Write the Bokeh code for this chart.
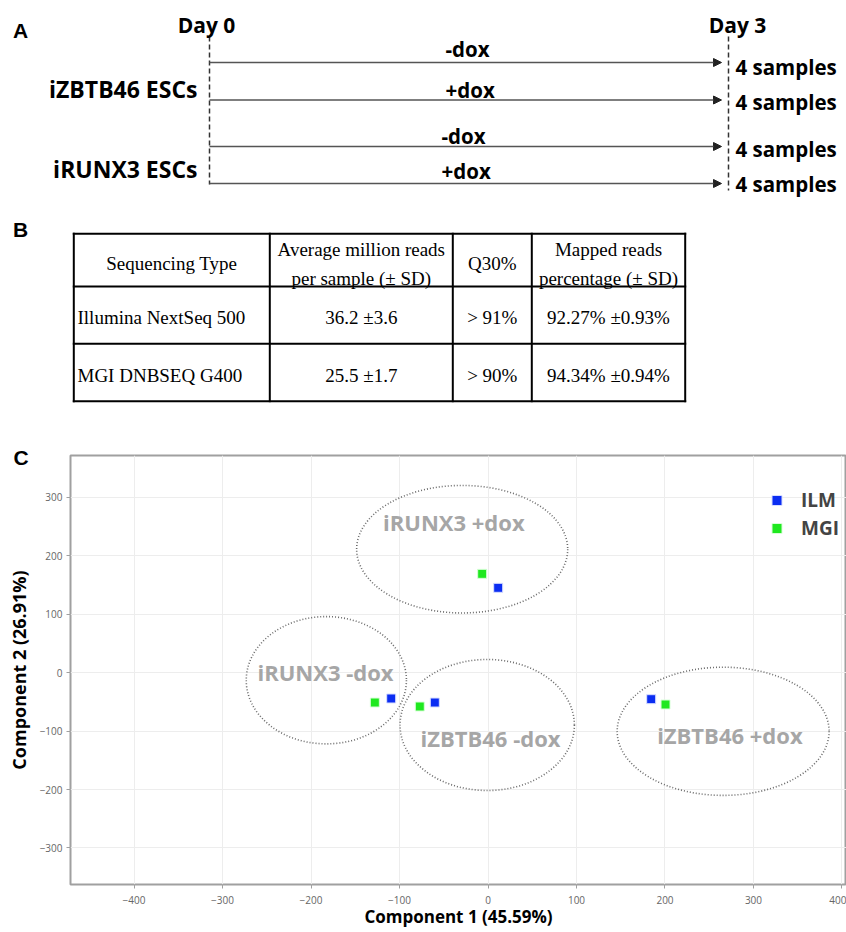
import numpy as np
from bokeh.plotting import figure
from bokeh.layouts import column
from bokeh.models import (Range1d, Arrow, NormalHead, Legend, LegendItem, Title,
                          ColumnDataSource, FixedTicker)
from bokeh.core.properties import value
from bokeh.embed import file_html
from bokeh.resources import INLINE

# ---------------- data ----------------
# Panel A: experimental design
cell_lines = ["iZBTB46 ESCs", "iRUNX3 ESCs"]
treatments = ["-dox", "+dox", "-dox", "+dox"]
sample_counts = ["4 samples", "4 samples", "4 samples", "4 samples"]
day_labels = ["Day 0", "Day 3"]

# Panel B: sequencing table
header_lines = [["Sequencing Type"],
                ["Average million reads", "per sample (\u00b1 SD)"],
                ["Q30%"],
                ["Mapped reads", "percentage (\u00b1 SD)"]]
platforms = ["Illumina NextSeq 500", "MGI DNBSEQ G400"]
avg_reads = ["36.2 \u00b13.6", "25.5 \u00b11.7"]
q30 = ["> 91%", "> 90%"]
mapped = ["92.27% \u00b10.93%", "94.34% \u00b10.94%"]

# Panel C: PCA
series_names = ["ILM", "MGI"]
ilm_pc1 = [11.5, -109.4, -60.1, 184.4]
ilm_pc2 = [144.8, -44.4, -51.3, -45.6]
mgi_pc1 = [-6.6, -127.9, -77.1, 200.6]
mgi_pc2 = [168.7, -51.3, -58.1, -54.7]
group_names = ["iRUNX3 +dox", "iRUNX3 -dox", "iZBTB46 -dox", "iZBTB46 +dox"]
group_cx = [-29.2, -182.7, -0.9, 265.7]
group_cy = [210.8, -13.2, -89.7, -100.5]
group_w = [238.5, 181.0, 197.0, 239.5]
group_h = [218.0, 217.6, 224.0, 219.3]
group_label_x = [-38.6, -183.6, 2.8, 273.3]
group_label_y = [257.0, 0.5, -111.6, -106.0]
x_ticks = [-400, -300, -200, -100, 0, 100, 200, 300, 400]
y_ticks = [-300, -200, -100, 0, 100, 200, 300]
x_title = "Component 1 (45.59%)"
y_title = "Component 2 (26.91%)"

# ---------------- layout constants (px, page coordinates) ----------------
W = 846
TOP_H = 420
C_H = 512
SANS = "Open Sans"
SERIF = "Liberation Serif"
PANEL_FONT = "Liberation Sans"

top = figure(width=W, height=TOP_H, x_range=Range1d(0, W), y_range=Range1d(TOP_H, 0),
             x_axis_type=None, y_axis_type=None, output_backend="svg",
             toolbar_location=None, min_border=0, frame_align=False)
top.grid.visible = False
top.outline_line_color = None

# panel letters
top.text(x=[12.5, 12.5], y=[30, 229], text=["A", "B"], text_font=value(PANEL_FONT),
         text_font_style="bold", text_font_size="21px", text_baseline="middle",
         text_align="left", text_color="black")

# ---- Panel A ----
day_x = [209, 728]
day_line_bottom = [184, 190]
dash_top = 36
row_y = [62, 99.5, 146, 183]
arrow_start = 209
arrow_end = 721

top.segment(x0=day_x, y0=[dash_top, dash_top], x1=day_x, y1=day_line_bottom,
            line_color="#333333", line_width=1.5, line_dash="5 3")
top.text(x=[206, 737], y=[24, 24], text=day_labels, text_font=value(SANS),
         text_font_style="bold", text_font_size="21px", text_align="center",
         text_baseline="middle", text_color="black")

arr_src = ColumnDataSource(dict(x0=[arrow_start] * 4, x1=[arrow_end] * 4, y=row_y))
top.add_layout(Arrow(end=NormalHead(size=8, fill_color="#222222", line_color="#222222", line_width=1),
                     source=arr_src, x_start="x0", y_start="y", x_end="x1", y_end="y",
                     line_color="#555555", line_width=1.4))

top.text(x=[445, 445, 441, 441], y=[48, 89, 135, 170], text=treatments, text_font=value(SANS),
         text_font_style="bold", text_font_size="20.5px", text_align="left",
         text_baseline="middle", text_color="black")
top.text(x=[735] * 4, y=[66, 101, 148, 183], text=sample_counts, text_font=value(SANS),
         text_font_style="bold", text_font_size="20.5px", text_align="left",
         text_baseline="middle", text_color="black")
top.text(x=[197, 197], y=[88, 168], text=cell_lines, text_font=value(SANS),
         text_font_style="bold", text_font_size="23px", text_align="right",
         text_baseline="middle", text_color="black")

# ---- Panel B table ----
tx = [73.3, 269.3, 452.3, 531.3, 684.7]
ty = [233.3, 286.0, 343.3, 400.7]
x0s = [tx[0]] * len(ty) + tx
x1s = [tx[-1]] * len(ty) + tx
y0s = ty + [ty[0]] * len(tx)
y1s = ty + [ty[-1]] * len(tx)
top.segment(x0=x0s, y0=y0s, x1=x1s, y1=y1s, line_color="black", line_width=2, line_cap="square")

col_cx = [(tx[i] + tx[i + 1]) / 2 for i in range(4)]
head_mid = (ty[0] + ty[1]) / 2
hx, hy, ht = [], [], []
for i, lines in enumerate(header_lines):
    if len(lines) == 1:
        hx.append(col_cx[i]); hy.append(head_mid + 3.5); ht.append(lines[0])
    else:
        hx += [col_cx[i], col_cx[i]]
        hy += [head_mid - 10.5, head_mid + 18.5]
        ht += lines
top.text(x=hx, y=hy, text=ht, text_font=value(SERIF), text_font_size="19px",
         text_align="center", text_baseline="middle", text_color="black")

row_mid = [(ty[1] + ty[2]) / 2 + 2.5, (ty[2] + ty[3]) / 2 + 2.5]
top.text(x=[77, 77], y=row_mid, text=platforms, text_font=value(SERIF), text_font_size="19px",
         text_align="left", text_baseline="middle", text_color="black")
body_x, body_y, body_t = [], [], []
for ci, vals in zip([1, 2, 3], [avg_reads, q30, mapped]):
    for ri, v in enumerate(vals):
        body_x.append(col_cx[ci]); body_y.append(row_mid[ri]); body_t.append(v)
top.text(x=body_x, y=body_y, text=body_t, text_font=value(SERIF), text_font_size="19px",
         text_align="center", text_baseline="middle", text_color="black")

# ---- Panel C ----
pc = figure(width=W, height=C_H, x_range=Range1d(-471.8, 405.1), y_range=Range1d(-362.4, 371.0),
            output_backend="svg", toolbar_location=None, frame_align=False,
            min_border_left=70, min_border_right=0, min_border_top=35, min_border_bottom=48)
pc.outline_line_color = "#a0a0a0"
pc.outline_line_width = 2
pc.xaxis.ticker = FixedTicker(ticks=x_ticks)
pc.yaxis.ticker = FixedTicker(ticks=y_ticks)
pc.grid.grid_line_color = "#ededed"
pc.grid.grid_line_width = 1
for ax in (pc.xaxis[0], pc.yaxis[0]):
    ax.axis_line_color = None
    ax.major_tick_line_color = "#a0a0a0"
    ax.major_tick_in = 0
    ax.major_tick_out = 4
    ax.minor_tick_line_color = None
    ax.major_label_text_font = SANS
    ax.major_label_text_font_size = "10px"
    ax.major_label_text_color = "#666666"
    ax.major_label_standoff = 4
pc.xaxis.major_label_standoff = 7
pc.yaxis.axis_label = y_title
pc.yaxis.axis_label_text_font = SANS
pc.yaxis.axis_label_text_font_style = "bold"
pc.yaxis.axis_label_text_font_size = "18px"
pc.yaxis.axis_label_text_color = "black"
pc.yaxis.axis_label_standoff = 6

x_title_obj = Title(text=x_title, align="center", offset=57, text_font=SANS,
                    text_font_style="bold", text_font_size="17px", text_color="black")
c_title_obj = Title(text="C", align="left", offset=-57, text_font=PANEL_FONT,
                    text_font_style="bold", text_font_size="21px", text_color="black")
for t, s in ((x_title_obj, -8), (c_title_obj, -26)):
    try:
        t.standoff = s
    except Exception:
        pass
pc.add_layout(x_title_obj, "below")
pc.add_layout(c_title_obj, "above")

pc.ellipse(x=group_cx, y=group_cy, width=group_w, height=group_h, fill_color=None,
           line_color="#6b6b6b", line_width=1.6, line_dash="1 2")
pc.text(x=group_label_x, y=group_label_y, text=group_names, text_font=value(SANS),
        text_font_style="bold", text_font_size="22px", text_color="#a6a6a6",
        text_align="center", text_baseline="middle")

r_ilm = pc.scatter(ilm_pc1, ilm_pc2, marker="square", size=9, fill_color="#0b2df2",
                   line_color="#d8deff", line_width=1)
r_mgi = pc.scatter(mgi_pc1, mgi_pc2, marker="square", size=9, fill_color="#1fe81f",
                   line_color="#d8ffd8", line_width=1)

legend = Legend(items=[LegendItem(label=series_names[0], renderers=[r_ilm]),
                       LegendItem(label=series_names[1], renderers=[r_mgi])],
                location=(694, 342), glyph_width=25, glyph_height=28, label_height=28,
                spacing=0, padding=0, margin=0, label_standoff=12,
                label_text_font=SANS, label_text_font_style="bold", label_text_font_size="19px",
                border_line_color=None, background_fill_alpha=0)
pc.add_layout(legend)

layout = column(top, pc, spacing=0)
open("out.html", "w").write(file_html(layout, INLINE))
